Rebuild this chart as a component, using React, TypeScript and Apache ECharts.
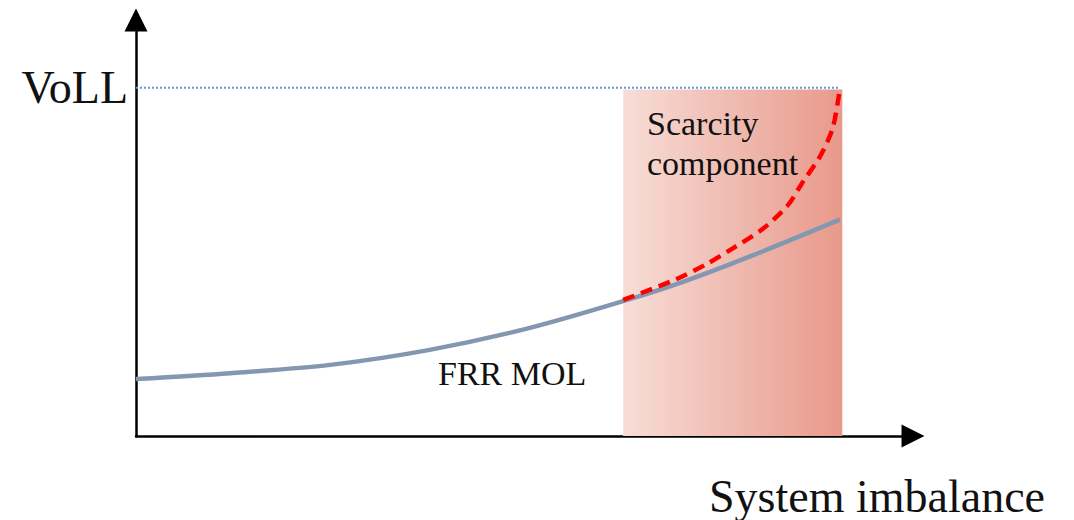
import React, { useEffect, useRef } from "react";
import * as echarts from "echarts";

// Conceptual chart: x = system imbalance (0..100), y = price (0..100)
const frrMolX = [0, 12.1, 25.0, 37.8, 50.7, 63.2, 70.3, 78.8, 90.6];
const frrMolY = [13.7, 15.1, 17.1, 20.7, 26.0, 32.7, 37.0, 43.0, 52.0];

const scarcityX = [62.7, 69.4, 73.5, 76.7, 80.6, 83.9, 85.8, 88.0, 89.6, 90.3, 90.6];
const scarcityY = [32.7, 37.6, 41.4, 45.0, 49.7, 55.5, 61.0, 67.1, 73.6, 80.0, 83.7];

const VOLL = 83.7;
const vollLineX = [0, 90.6];
const scarcityZone = [62.7, 90.9];

const labels = {
  voll: "VoLL",
  xName: "System imbalance",
  scarcity: "Scarcity\ncomponent",
  frr: "FRR MOL",
};

const serif = "Liberation Serif";

export default function App() {
  const ref = useRef<HTMLDivElement>(null);
  useEffect(() => {
    if (!ref.current) return;
    const chart = echarts.init(ref.current, null, { renderer: "svg" });
    const zip = (xs: number[], ys: number[]) => xs.map((x, i) => [x, ys[i]]);
    chart.setOption({
      animation: false,
      backgroundColor: "#ffffff",
      title: [
        {
          text: labels.scarcity,
          left: 647,
          top: 103,
          padding: 0,
          textStyle: { fontFamily: serif, fontSize: 34, lineHeight: 40, fontWeight: "normal", color: "#111" },
        },
        {
          text: labels.frr,
          left: 438,
          top: 356,
          padding: 0,
          textStyle: { fontFamily: serif, fontSize: 34, lineHeight: 34, fontWeight: "normal", color: "#111" },
        },
        {
          text: labels.xName,
          right: 29,
          top: 473,
          padding: 0,
          textStyle: { fontFamily: serif, fontSize: 46, lineHeight: 46, fontWeight: "normal", color: "#111" },
        },
      ],
      grid: { left: 136, right: 161, top: 20, bottom: 84, containLabel: false },
      xAxis: {
        type: "value",
        min: 0,
        max: 100,
        axisLine: {
          show: true,
          symbol: ["none", "triangle"],
          symbolSize: [23, 23],
          lineStyle: { color: "#000", width: 2.5 },
        },
        axisTick: { show: false },
        axisLabel: { show: false },
        splitLine: { show: false },
      },
      yAxis: {
        type: "value",
        min: 0,
        max: 100,
        axisLine: {
          show: true,
          symbol: ["none", "triangle"],
          symbolSize: [23, 23],
          lineStyle: { color: "#000", width: 2.5 },
        },
        axisTick: { show: false },
        splitLine: { show: false },
        axisLabel: {
          show: true,
          customValues: [VOLL],
          formatter: () => labels.voll,
          fontFamily: serif,
          fontSize: 46,
          color: "#111",
          margin: 8,
        },
      },
      series: [
        {
          type: "line",
          name: "VoLL",
          data: zip(vollLineX, [VOLL, VOLL]),
          symbol: "none",
          lineStyle: { color: "#5b9bd5", width: 2, type: [2, 2] },
          z: 3,
          markArea: {
            silent: true,
            itemStyle: {
              color: new echarts.graphic.LinearGradient(0, 0, 1, 0, [
                { offset: 0, color: "#f7ddd7" },
                { offset: 1, color: "#e8998a" },
              ]),
            },
            data: [[{ xAxis: scarcityZone[0], yAxis: 0 }, { xAxis: scarcityZone[1], yAxis: VOLL - 0.4 }]],
          },
        },
        {
          type: "line",
          name: "FRR MOL",
          data: zip(frrMolX, frrMolY),
          symbol: "none",
          smooth: 0.3,
          lineStyle: { color: "#8497b0", width: 4.5 },
          z: 4,
        },
        {
          type: "line",
          name: "Scarcity",
          data: zip(scarcityX, scarcityY),
          symbol: "none",
          smooth: 0.3,
          lineStyle: { color: "#ff0000", width: 4.5, type: [12, 7] },
          z: 5,
        },
      ],
    });
    return () => chart.dispose();
  }, []);
  return (
    <div
      ref={ref}
      style={{ position: "absolute", left: 0, top: 0, width: 1074, height: 520 }}
    />
  );
}
